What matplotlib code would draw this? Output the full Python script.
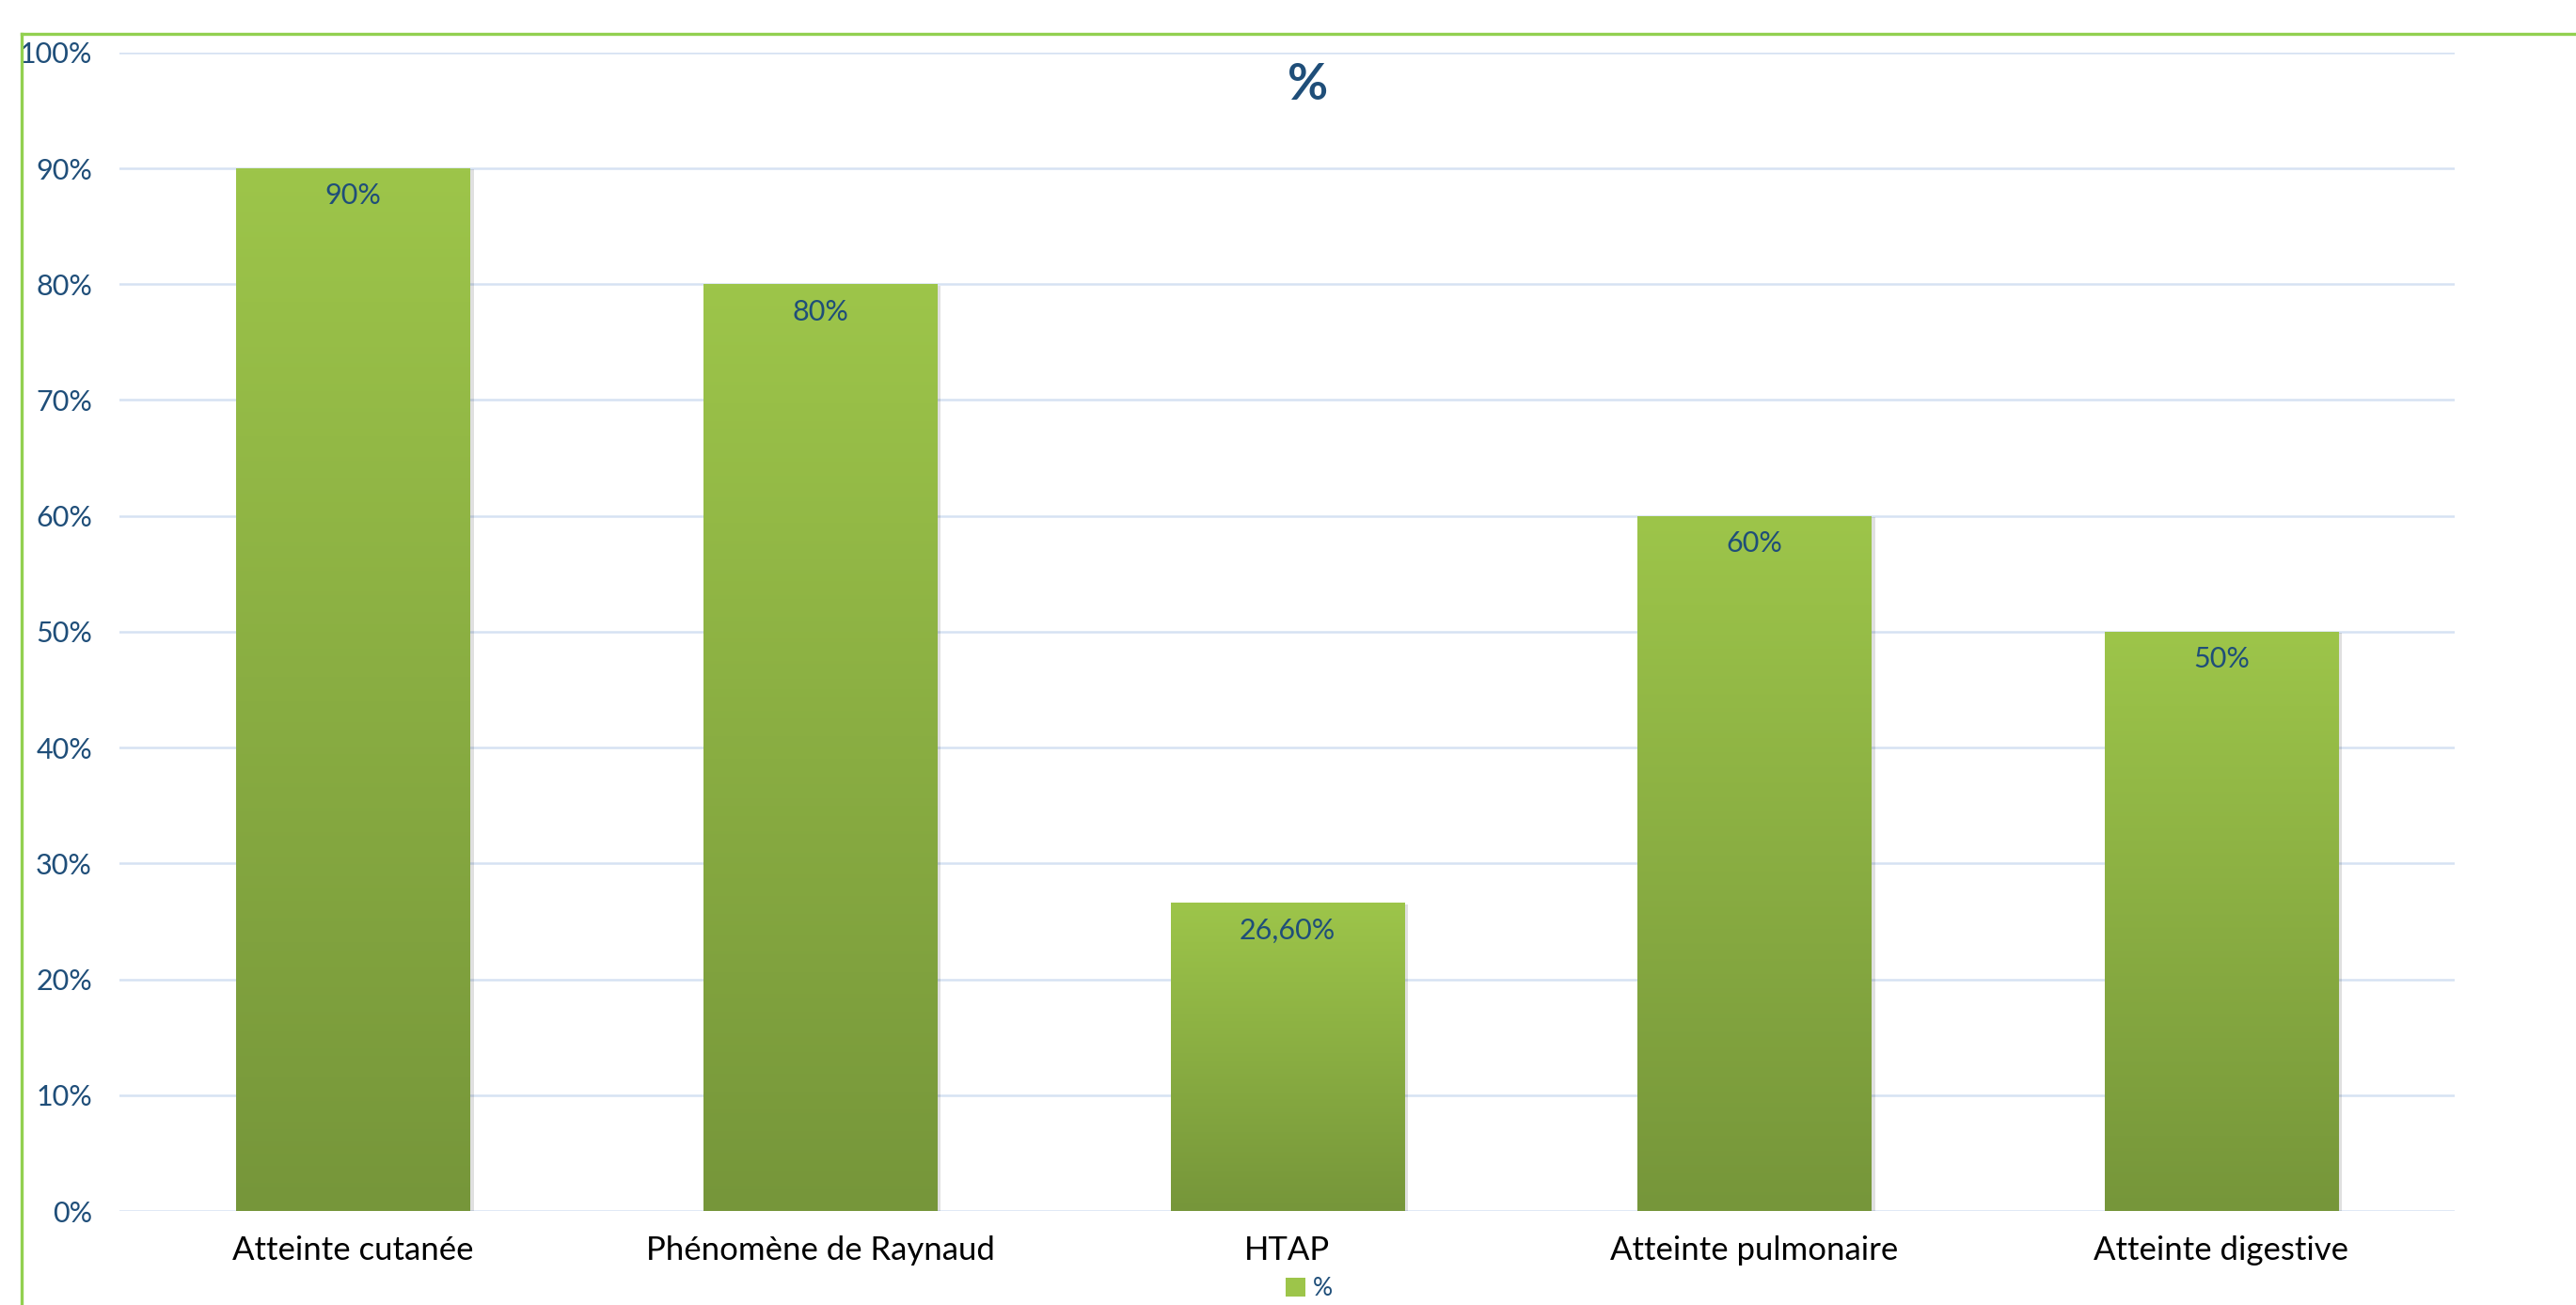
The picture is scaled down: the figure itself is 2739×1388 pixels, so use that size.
import numpy as np
import matplotlib.pyplot as plt
from matplotlib.colors import LinearSegmentedColormap
from matplotlib.lines import Line2D
from matplotlib.patches import Patch
import matplotlib.patheffects as pe

# données
categories = ["Atteinte cutanée", "Phénomène de Raynaud", "HTAP",
              "Atteinte pulmonaire", "Atteinte digestive"]
valeurs = [90, 80, 26.6, 60, 50]
etiquettes = ["90%", "80%", "26,60%", "60%", "50%"]
yticks = list(range(0, 101, 10))

bleu = "#1F4E79"
vert_haut = "#9DC54A"
vert_bas = "#76963A"

plt.rcParams["font.family"] = ["Lato", "DejaVu Sans"]

fig = plt.figure(figsize=(27.39, 13.88), dpi=100)
ax = fig.add_axes([0.0464, 0.072, 0.9066, 0.8878])

x = np.arange(len(categories))
bars = ax.bar(x, valeurs, width=0.5, color=vert_haut, zorder=2,
              path_effects=[pe.SimplePatchShadow(offset=(3, -1), shadow_rgbFace="#000000", alpha=0.12),
                            pe.Normal()])

# dégradé vertical dans chaque barre
cmap = LinearSegmentedColormap.from_list("vert", [vert_bas, vert_haut])
grad = np.linspace(0, 1, 256).reshape(-1, 1)
for b in bars:
    im = ax.imshow(grad, cmap=cmap, aspect="auto", origin="lower", zorder=3,
                   extent=[b.get_x(), b.get_x() + b.get_width(), 0, b.get_height()])
    im.set_clip_path(b)

for b, lab in zip(bars, etiquettes):
    ax.annotate(lab, (b.get_x() + b.get_width() / 2, b.get_height()),
                xytext=(0, -11), textcoords="offset points",
                ha="center", va="top", fontsize=22, color=bleu, zorder=4)

ax.set_xlim(-0.5, len(categories) - 0.5)
ax.set_ylim(0, 100)
ax.set_yticks(yticks)
ax.set_yticklabels([f"{v}%" for v in yticks])
ax.set_xticks(x)
ax.set_xticklabels(categories)
ax.tick_params(axis="y", length=0, pad=21, labelsize=22, labelcolor=bleu)
ax.tick_params(axis="x", length=0, pad=19, labelsize=25, labelcolor="black")
ax.yaxis.grid(True, color="#D6E2F3", linewidth=1.8, zorder=0)
ax.set_axisbelow(True)
for s in ax.spines.values():
    s.set_visible(False)

# titre, centré sur la zone du graphique
fig.text(1391 / 2739, 1 - 91 / 1388, "%", fontsize=38, fontweight="bold",
         color=bleu, ha="center", va="center")

# légende
h = [Patch(facecolor=vert_haut, edgecolor="none")]
fig.legend(h, ["%"], loc="center", bbox_to_anchor=(1392 / 2739, 1 - 1371 / 1388),
           frameon=False, fontsize=19, labelcolor=bleu, handlelength=0.8,
           handleheight=0.8, handletextpad=0.3, borderpad=0)

# cadre vert (haut et gauche)
fig.add_artist(Line2D([23 / 2739, 1], [1 - 36 / 1388, 1 - 36 / 1388],
                      transform=fig.transFigure, color="#92D050", linewidth=2.4))
fig.add_artist(Line2D([23 / 2739, 23 / 2739], [0, 1 - 36 / 1388],
                      transform=fig.transFigure, color="#92D050", linewidth=2.4))

fig.savefig("out.png", dpi=100)
